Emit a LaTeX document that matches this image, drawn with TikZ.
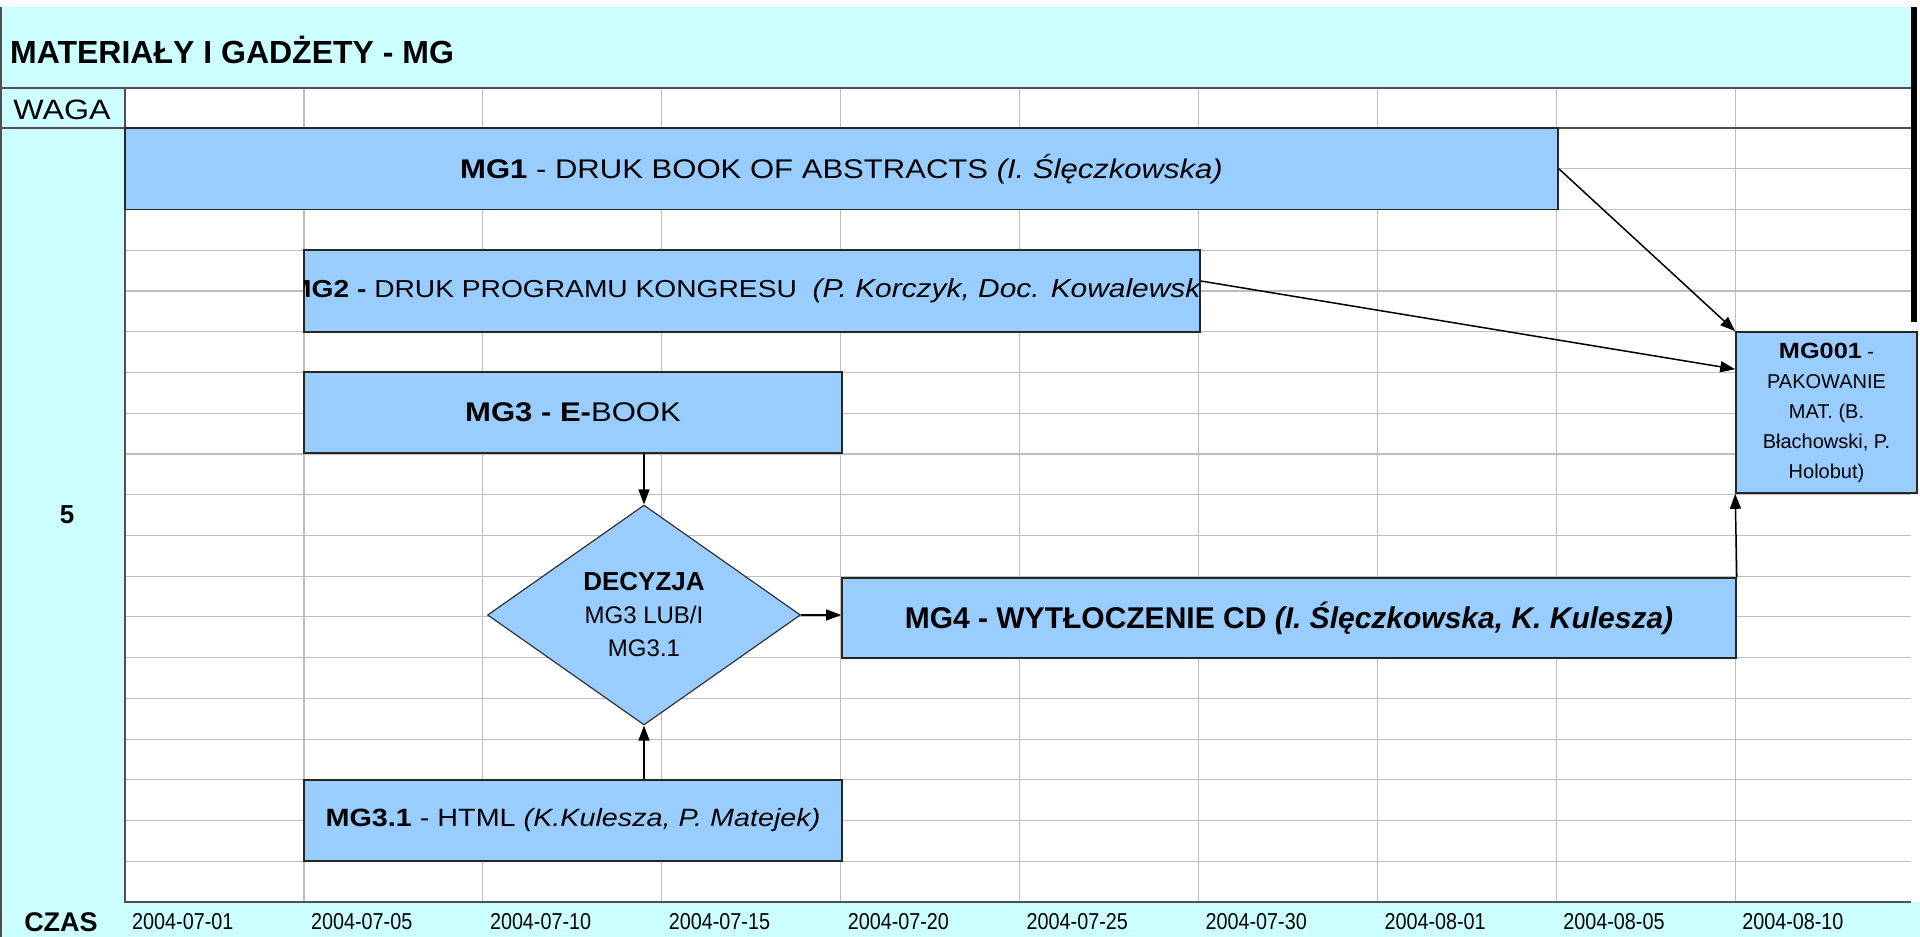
\documentclass[tikz,border=0pt]{standalone}
\usepackage{fontspec}
\setmainfont{Liberation Sans}
\newfontfamily\widefont{Liberation Sans}[FakeStretch=1.15]
\newfontfamily\narrowfont{Liberation Sans}[FakeStretch=0.86]
\usetikzlibrary{shapes.geometric,arrows.meta,calc}
\definecolor{bandcyan}{HTML}{CCFFFF}
\definecolor{boxblue}{HTML}{99CCFF}
\definecolor{gridgray}{HTML}{BEBEBE}
\definecolor{framegray}{HTML}{505050}
\begin{document}
\begin{tikzpicture}[x=1pt,y=-1pt,
  task/.style={draw=black!85, line width=1.6pt, fill=boxblue, inner sep=0pt, align=center},
  decision/.style={diamond, draw=black!80, line width=1.2pt, fill=boxblue, inner sep=0pt, align=center},
  arr/.style={line width=1.5pt, -{Triangle[length=15pt,width=11pt]}},
  lbl/.style={inner sep=0pt},
  gridline/.style={gridgray, line width=1.2pt},
  frameline/.style={framegray, line width=1.5pt}
]
\useasboundingbox (0,0) rectangle (1920,937);
\fill[white] (0,0) rectangle (1920,937);
% bands
\fill[bandcyan] (0,7) rectangle (1911,88);
\fill[bandcyan] (0,88) rectangle (125,937);
\fill[bandcyan] (125,902) rectangle (1920,937);
% grid
\foreach \k in {1,...,9} \draw[gridline] ({125+\k*178.9},88) -- ({125+\k*178.9},902);
\foreach \j in {1,...,18} \draw[gridline] (125,{128+\j*40.74}) -- (1911,{128+\j*40.74});
% frame
\draw[frameline] (0,88) -- (1911,88);
\draw[frameline] (0,128) -- (1911,128);
\draw[frameline] (125,88) -- (125,902) -- (1911,902);
\draw[framegray, line width=2pt] (1,7) -- (1,937);
\draw[black, line width=6pt] (1914,7) -- (1914,322);

% header texts
\node[lbl, anchor=west, font=\bfseries\fontsize{32}{38}\selectfont] (title) at (10,50) {MATERIAŁY I GADŻETY - MG};
\node[lbl, font=\widefont\fontsize{28}{34}\selectfont] (waga) at (62,110) {WAGA};
\node[lbl, font=\bfseries\fontsize{26}{30}\selectfont] (weight) at (67,515) {5};
\node[lbl, font=\bfseries\fontsize{27}{32}\selectfont] (czas) at (61,922) {CZAS};
\foreach \d [count=\k from 0] in {2004-07-01,2004-07-05,2004-07-10,2004-07-15,2004-07-20,2004-07-25,2004-07-30,2004-08-01,2004-08-05,2004-08-10}
  \node[lbl, anchor=west, font=\narrowfont\fontsize{23}{28}\selectfont] (date\k) at ({132+\k*178.9},922) {\d};

% tasks
\node[task, minimum width=1433pt, minimum height=81.5pt, font=\widefont\fontsize{27}{32}\selectfont] (mg1) at (841.5,168.75)
  {\textbf{MG1} - DRUK BOOK OF ABSTRACTS \textit{(I. Ślęczkowska)}};
\node[task, minimum width=896pt, minimum height=82pt] (mg2) at (752,291) {};
\begin{scope}
  \clip ([xshift=1pt]mg2.south west) rectangle ([xshift=-1pt]mg2.north east);
  \node[lbl, anchor=west, font=\widefont\fontsize{24.5}{30}\selectfont] (mg2text) at (288,291)
    {\textbf{MG2 -} DRUK PROGRAMU KONGRESU\ \ {\fontsize{26}{30}\selectfont\itshape (P. Korczyk, Doc. Kowalewski)}};
\end{scope}
\node[task, minimum width=538pt, minimum height=81pt, font=\widefont\fontsize{27}{32}\selectfont] (mg3) at (573,412.5)
  {\textbf{MG3 - E-}BOOK};
\node[decision, minimum width=313pt, minimum height=220pt, font=\fontsize{24}{33}\selectfont] (dec) at (644,615)
  {{\bfseries\fontsize{26}{33}\selectfont DECYZJA}\\MG3 LUB/I\\MG3.1};
\node[task, minimum width=894pt, minimum height=80pt, font=\bfseries\fontsize{30}{36}\selectfont] (mg4) at (1289,618)
  {MG4 - WYTŁOCZENIE CD \textit{(I. Ślęczkowska, K. Kulesza)}};
\node[task, minimum width=538pt, minimum height=81pt, font=\widefont\fontsize{25}{30}\selectfont] (mg31) at (573,820.5)
  {\textbf{MG3.1} - HTML \textit{(K.Kulesza, P. Matejek)}};
\node[task, minimum width=181pt, minimum height=161pt, font=\fontsize{20}{30}\selectfont] (mg001) at (1826.5,412.5)
  {{\widefont\bfseries\fontsize{22}{30}\selectfont MG001} -\\PAKOWANIE\\MAT. (B.\\Błachowski, P.\\Holobut)};

% connectors
\draw[arr] (mg1.east) -- (mg001.north west);
\draw[arr] ([yshift=10pt]mg2.east) -- ([yshift=-38pt]mg001.north west);
\draw[arr] (dec.north |- mg3.south) -- (dec.north);
\draw[arr] (dec.east) -- (dec.east -| mg4.west);
\draw[arr] (dec.south |- mg31.north) -- (dec.south);
\draw[arr] (mg4.north east) -- (mg001.south west);
\end{tikzpicture}
\end{document}
